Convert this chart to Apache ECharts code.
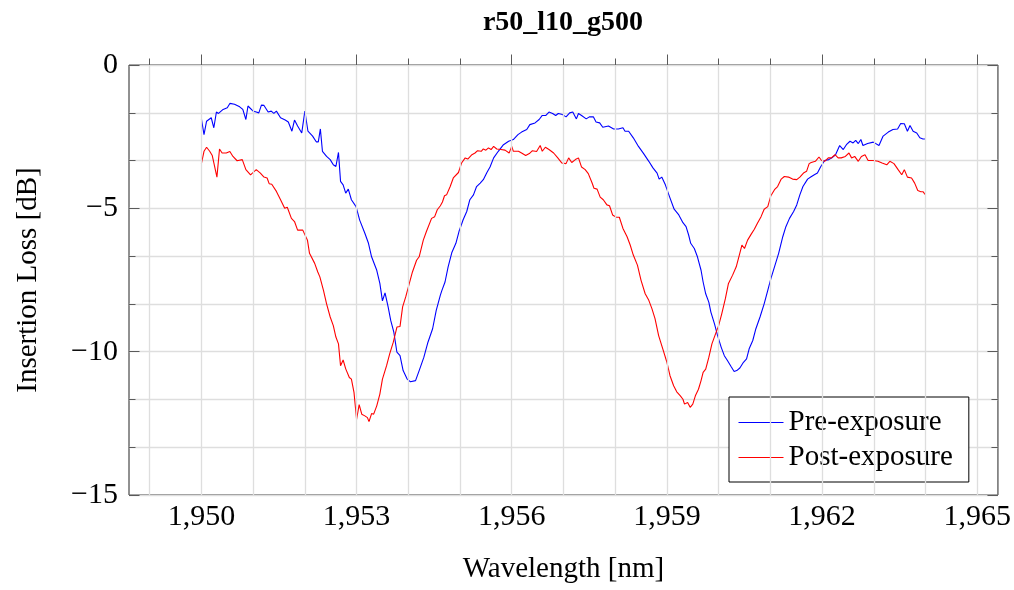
<!DOCTYPE html>
<html>
<head>
<meta charset="utf-8">
<title>r50_l10_g500</title>
<script src="https://cdn.jsdelivr.net/npm/echarts@6/dist/echarts.min.js"></script>
<style>
  html, body { margin: 0; padding: 0; background: #fff; }
  #chart { width: 1014px; height: 590px; }
</style>
</head>
<body>
<div id="chart"></div>
<script>
// Ring resonator transmission, r50_l10_g500: insertion loss before and after exposure.
const chartTitle = 'r50_l10_g500';
const seriesNames = ['Pre-exposure', 'Post-exposure'];

const preWavelength = [
  1950.00, 1950.05, 1950.10, 1950.19, 1950.24, 1950.29, 1950.33, 1950.42, 1950.50, 1950.55,
  1950.64, 1950.74, 1950.80, 1950.86, 1950.90, 1951.00, 1951.06, 1951.11, 1951.16, 1951.21,
  1951.29, 1951.35, 1951.40, 1951.45, 1951.53, 1951.62, 1951.68, 1951.75, 1951.80, 1951.86,
  1951.94, 1952.00, 1952.06, 1952.15, 1952.22, 1952.26, 1952.30, 1952.34, 1952.42, 1952.49,
  1952.55, 1952.60, 1952.65, 1952.69, 1952.74, 1952.79, 1952.84, 1952.90, 1952.99, 1953.06,
  1953.16, 1953.23, 1953.29, 1953.39, 1953.45, 1953.50, 1953.55, 1953.61, 1953.66, 1953.72,
  1953.78, 1953.84, 1953.90, 1953.98, 1954.04, 1954.14, 1954.21, 1954.30, 1954.38, 1954.47,
  1954.54, 1954.62, 1954.65, 1954.71, 1954.77, 1954.84, 1954.92, 1954.98, 1955.06, 1955.13,
  1955.19, 1955.26, 1955.32, 1955.39, 1955.45, 1955.52, 1955.58, 1955.65, 1955.74, 1955.84,
  1955.94, 1956.03, 1956.12, 1956.19, 1956.29, 1956.35, 1956.45, 1956.53, 1956.59, 1956.66,
  1956.72, 1956.79, 1956.85, 1956.90, 1956.98, 1957.05, 1957.12, 1957.18, 1957.25, 1957.29,
  1957.35, 1957.44, 1957.50, 1957.58, 1957.63, 1957.70, 1957.76, 1957.87, 1957.97, 1958.06,
  1958.15, 1958.19, 1958.26, 1958.35, 1958.45, 1958.55, 1958.65, 1958.73, 1958.81, 1958.85,
  1958.90, 1958.97, 1959.05, 1959.14, 1959.23, 1959.31, 1959.37, 1959.42, 1959.46, 1959.53,
  1959.59, 1959.66, 1959.70, 1959.75, 1959.81, 1959.85, 1959.92, 1959.98, 1960.05, 1960.11,
  1960.17, 1960.24, 1960.30, 1960.35, 1960.41, 1960.48, 1960.54, 1960.59, 1960.66, 1960.72,
  1960.80, 1960.88, 1960.95, 1961.01, 1961.08, 1961.16, 1961.24, 1961.30, 1961.37, 1961.45,
  1961.51, 1961.57, 1961.63, 1961.66, 1961.72, 1961.78, 1961.85, 1961.91, 1961.97, 1962.05,
  1962.13, 1962.19, 1962.26, 1962.34, 1962.41, 1962.47, 1962.54, 1962.60, 1962.65, 1962.70,
  1962.75, 1962.79, 1962.88, 1962.99, 1963.10, 1963.18, 1963.28, 1963.37, 1963.46, 1963.52,
  1963.59, 1963.65, 1963.70, 1963.76, 1963.83, 1963.89, 1963.95, 1964.00
];
const preLoss = [
  -1.88, -2.43, -1.96, -1.84, -2.19, -1.64, -1.69, -1.55, -1.49, -1.34,
  -1.37, -1.46, -1.55, -1.90, -1.43, -1.61, -1.64, -1.67, -1.40, -1.41,
  -1.64, -1.61, -1.69, -1.61, -1.84, -1.92, -1.99, -2.31, -1.92, -2.13,
  -2.37, -1.61, -2.31, -2.48, -2.68, -2.68, -2.23, -3.01, -3.19, -3.30,
  -3.48, -3.54, -3.05, -4.06, -4.18, -4.47, -4.33, -4.70, -4.94, -5.41,
  -5.87, -6.22, -6.69, -7.16, -7.62, -8.23, -7.95, -8.44, -8.91, -9.32,
  -10.02, -10.14, -10.66, -10.96, -11.05, -11.01, -10.66, -10.20, -9.67, -9.20,
  -8.56, -8.03, -7.86, -7.57, -7.04, -6.55, -6.22, -5.81, -5.40, -5.11,
  -4.70, -4.53, -4.24, -4.12, -4.00, -3.75, -3.56, -3.24, -3.01, -2.78,
  -2.66, -2.60, -2.43, -2.34, -2.25, -2.08, -2.02, -1.90, -1.76, -1.76,
  -1.64, -1.69, -1.76, -1.69, -1.73, -1.81, -1.67, -1.64, -1.88, -1.69,
  -1.76, -1.88, -1.81, -1.81, -1.99, -2.02, -2.17, -2.13, -2.23, -2.23,
  -2.19, -2.31, -2.31, -2.54, -2.84, -3.09, -3.36, -3.59, -3.77, -3.98,
  -3.91, -4.18, -4.59, -5.03, -5.23, -5.50, -5.64, -5.93, -6.22, -6.40,
  -6.69, -7.16, -7.57, -7.98, -8.27, -8.62, -9.03, -9.44, -9.85, -10.14,
  -10.31, -10.52, -10.69, -10.66, -10.57, -10.37, -10.25, -9.90, -9.61, -9.20,
  -8.79, -8.33, -7.86, -7.45, -7.04, -6.57, -5.99, -5.64, -5.35, -5.11,
  -4.88, -4.53, -4.24, -4.26, -3.98, -3.91, -3.83, -3.77, -3.56, -3.33,
  -3.30, -3.24, -3.13, -2.81, -2.95, -2.78, -2.66, -2.72, -2.63, -2.74,
  -2.60, -2.81, -2.74, -2.69, -2.81, -2.48, -2.34, -2.25, -2.23, -2.04,
  -2.05, -2.31, -2.11, -2.31, -2.37, -2.54, -2.58, -2.58
];

const postWavelength = [
  1950.00, 1950.05, 1950.10, 1950.16, 1950.21, 1950.24, 1950.30, 1950.35, 1950.40, 1950.48,
  1950.55, 1950.61, 1950.69, 1950.79, 1950.86, 1950.95, 1951.06, 1951.14, 1951.21, 1951.27,
  1951.31, 1951.36, 1951.45, 1951.53, 1951.61, 1951.66, 1951.74, 1951.80, 1951.86, 1951.96,
  1952.05, 1952.09, 1952.19, 1952.25, 1952.29, 1952.36, 1952.42, 1952.49, 1952.55, 1952.60,
  1952.65, 1952.69, 1952.74, 1952.79, 1952.86, 1952.90, 1952.95, 1953.00, 1953.05, 1953.10,
  1953.16, 1953.21, 1953.24, 1953.29, 1953.33, 1953.39, 1953.45, 1953.50, 1953.58, 1953.64,
  1953.71, 1953.78, 1953.84, 1953.89, 1953.95, 1954.02, 1954.08, 1954.16, 1954.21, 1954.29,
  1954.35, 1954.45, 1954.51, 1954.56, 1954.62, 1954.66, 1954.70, 1954.74, 1954.81, 1954.87,
  1954.97, 1955.03, 1955.10, 1955.15, 1955.23, 1955.29, 1955.34, 1955.41, 1955.45, 1955.50,
  1955.55, 1955.60, 1955.65, 1955.71, 1955.79, 1955.87, 1955.95, 1956.00, 1956.03, 1956.13,
  1956.19, 1956.27, 1956.34, 1956.40, 1956.48, 1956.55, 1956.59, 1956.65, 1956.72, 1956.81,
  1956.89, 1956.97, 1957.05, 1957.10, 1957.16, 1957.23, 1957.29, 1957.35, 1957.42, 1957.48,
  1957.55, 1957.59, 1957.65, 1957.71, 1957.77, 1957.84, 1957.89, 1957.95, 1958.02, 1958.08,
  1958.15, 1958.23, 1958.29, 1958.35, 1958.43, 1958.50, 1958.58, 1958.65, 1958.71, 1958.77,
  1958.84, 1958.92, 1959.00, 1959.06, 1959.13, 1959.19, 1959.26, 1959.31, 1959.34, 1959.40,
  1959.45, 1959.50, 1959.55, 1959.61, 1959.66, 1959.70, 1959.75, 1959.81, 1959.87, 1959.94,
  1960.00, 1960.06, 1960.13, 1960.19, 1960.27, 1960.34, 1960.40, 1960.45, 1960.50, 1960.56,
  1960.63, 1960.69, 1960.75, 1960.82, 1960.88, 1960.95, 1961.01, 1961.08, 1961.14, 1961.21,
  1961.27, 1961.35, 1961.43, 1961.51, 1961.57, 1961.64, 1961.70, 1961.75, 1961.79, 1961.87,
  1961.94, 1961.99, 1962.05, 1962.12, 1962.18, 1962.25, 1962.31, 1962.37, 1962.45, 1962.52,
  1962.57, 1962.63, 1962.70, 1962.76, 1962.83, 1962.89, 1962.99, 1963.08, 1963.16, 1963.25,
  1963.31, 1963.39, 1963.47, 1963.54, 1963.59, 1963.65, 1963.73, 1963.79, 1963.85, 1963.91,
  1963.95, 1964.00
];
const postLoss = [
  -3.44, -3.01, -2.87, -3.01, -3.16, -3.13, -3.91, -2.93, -3.07, -3.07,
  -3.02, -3.19, -3.34, -3.30, -3.65, -3.83, -3.65, -3.77, -3.91, -3.94,
  -4.14, -4.16, -4.41, -4.70, -5.00, -4.96, -5.35, -5.46, -5.76, -5.76,
  -6.11, -6.57, -6.92, -7.22, -7.39, -7.86, -8.33, -8.79, -9.09, -9.49,
  -9.73, -10.49, -10.29, -10.60, -10.90, -10.96, -11.42, -12.36, -11.85, -12.18,
  -12.24, -12.30, -12.44, -12.16, -12.18, -11.89, -11.48, -10.96, -10.49, -10.08,
  -9.67, -9.14, -9.12, -8.44, -8.09, -7.62, -7.22, -6.81, -6.69, -6.11,
  -5.81, -5.35, -5.29, -5.05, -4.91, -4.78, -4.56, -4.53, -4.24, -3.94,
  -3.75, -3.42, -3.24, -3.28, -3.13, -3.07, -2.99, -3.01, -2.93, -2.97,
  -2.89, -2.95, -2.84, -2.93, -2.95, -2.97, -3.07, -2.84, -3.01, -3.01,
  -3.07, -3.16, -3.09, -2.99, -3.02, -2.81, -3.01, -2.87, -2.95, -3.07,
  -3.24, -3.42, -3.44, -3.24, -3.40, -3.30, -3.24, -3.56, -3.65, -3.79,
  -4.10, -4.30, -4.33, -4.61, -4.70, -4.88, -4.91, -5.23, -5.31, -5.31,
  -5.70, -5.99, -6.28, -6.63, -6.98, -7.51, -7.98, -8.21, -8.50, -8.85,
  -9.44, -9.90, -10.37, -10.84, -11.19, -11.40, -11.54, -11.66, -11.83, -11.77,
  -11.94, -11.83, -11.54, -11.31, -11.01, -10.72, -10.61, -10.20, -9.73, -9.38,
  -9.09, -8.68, -8.15, -7.62, -7.33, -7.04, -6.63, -6.28, -6.40, -6.11,
  -5.90, -5.73, -5.52, -5.29, -5.03, -4.94, -4.56, -4.35, -4.24, -3.98,
  -3.89, -3.91, -3.98, -4.00, -3.91, -3.77, -3.71, -3.44, -3.40, -3.36,
  -3.21, -3.33, -3.36, -3.24, -3.24, -3.13, -3.24, -3.24, -3.19, -3.07,
  -3.24, -3.19, -3.36, -3.19, -3.13, -3.33, -3.33, -3.36, -3.42, -3.48,
  -3.36, -3.44, -3.65, -3.83, -3.65, -3.91, -3.94, -4.12, -4.38, -4.42,
  -4.42, -4.53
];

// Axis ticks
const xMajorTicks = [1950, 1953, 1956, 1959, 1962, 1965];
const xMinorTicks = [1949, 1950, 1951, 1952, 1953, 1954, 1955, 1956, 1957, 1958,
                     1959, 1960, 1961, 1962, 1963, 1964, 1965];
const xRange = [1948.6, 1965.4];
const yRange = [-15, 0];
const yStep = 5;

const FONT = 'Liberation Serif';
const GRID_COLOR = '#dedede';
const TICK_COLOR = '#5a5a5a';

const zip = (xs, ys) => xs.map((x, i) => [x, ys[i]]);
const thousands = v => String(Math.round(v)).replace(/\B(?=(\d{3})+(?!\d))/g, ',');
const signed = v => (v < 0 ? '\u2212' + Math.abs(v) : String(v));

function xAxisDef(position, ticks, len, showLabels) {
  return {
    type: 'value',
    position: position,
    min: xRange[0],
    max: xRange[1],
    axisLine: { show: false },
    splitLine: { show: false },
    axisTick: {
      show: true, inside: true, length: len, customValues: ticks,
      lineStyle: { color: TICK_COLOR, width: 1 }
    },
    axisLabel: showLabels ? {
      show: true, customValues: xMajorTicks, margin: 7,
      formatter: thousands,
      fontFamily: FONT, fontSize: 30, color: '#000'
    } : { show: false },
    name: showLabels ? 'Wavelength [nm]' : '',
    nameLocation: 'middle',
    nameGap: 60,
    nameTextStyle: { fontFamily: FONT, fontSize: 29, color: '#000' }
  };
}

function yAxisDef(position, main) {
  return {
    type: 'value',
    position: position,
    min: yRange[0],
    max: yRange[1],
    interval: yStep,
    axisLine: { show: false },
    axisTick: { show: true, inside: true, length: 10.5, lineStyle: { color: TICK_COLOR, width: 1 } },
    minorTick: { show: true, splitNumber: 3, length: 6.5, lineStyle: { color: TICK_COLOR, width: 1 } },
    splitLine: { show: main, lineStyle: { color: GRID_COLOR, width: 1.3 } },
    minorSplitLine: { show: main, lineStyle: { color: GRID_COLOR, width: 1.3 } },
    axisLabel: main ? {
      show: true, margin: 11, formatter: signed,
      fontFamily: FONT, fontSize: 30, color: '#000'
    } : { show: false },
    name: main ? 'Insertion Loss [dB]' : '',
    nameLocation: 'middle',
    nameGap: 86,
    nameRotate: 90,
    nameTextStyle: { fontFamily: FONT, fontSize: 29, color: '#000' }
  };
}

const chart = echarts.init(document.getElementById('chart'), null, { renderer: 'canvas' });

chart.setOption({
  animation: false,
  backgroundColor: '#fff',
  title: {
    text: chartTitle,
    left: 563,
    top: 9,
    padding: 0,
    textAlign: 'center',
    textStyle: { fontFamily: FONT, fontSize: 28, fontWeight: 'bold', color: '#000' }
  },
  grid: {
    left: 129, top: 65, right: 16, bottom: 95,
    show: true, borderColor: '#222', borderWidth: 1, backgroundColor: 'transparent'
  },
  xAxis: [
    xAxisDef('bottom', xMajorTicks, 10.5, true),
    xAxisDef('bottom', xMinorTicks, 6.5, false),
    xAxisDef('top', xMajorTicks, 10.5, false),
    xAxisDef('top', xMinorTicks, 6.5, false)
  ],
  yAxis: [
    yAxisDef('left', true),
    yAxisDef('right', false)
  ],
  legend: {
    data: seriesNames,
    orient: 'vertical',
    left: 729,
    top: 397,
    padding: [11, 16, 10, 9],
    itemGap: 6,
    itemWidth: 45,
    itemHeight: 30,
    selectedMode: false,
    backgroundColor: '#fff',
    borderColor: '#000',
    borderWidth: 1,
    borderRadius: 0,
    itemStyle: { opacity: 0, borderWidth: 0 },
    lineStyle: { width: 1 },
    textStyle: { fontFamily: FONT, fontSize: 29, color: '#000' }
  },
  series: [
    {
      // vertical grid lines, one per nanometre
      type: 'line',
      data: [],
      silent: true,
      z: 1,
      markLine: {
        silent: true,
        symbol: ['none', 'none'],
        label: { show: false },
        lineStyle: { color: GRID_COLOR, width: 1.3, type: 'solid' },
        data: xMinorTicks.map(v => ({ xAxis: v }))
      }
    },
    {
      name: seriesNames[0],
      type: 'line',
      data: zip(preWavelength, preLoss),
      symbol: 'none',
      z: 3,
      color: '#0000ff',
      lineStyle: { color: '#0000ff', width: 1.1 }
    },
    {
      name: seriesNames[1],
      type: 'line',
      data: zip(postWavelength, postLoss),
      symbol: 'none',
      z: 3,
      color: '#ff0000',
      lineStyle: { color: '#ff0000', width: 1.1 }
    }
  ]
});
</script>
</body>
</html>
